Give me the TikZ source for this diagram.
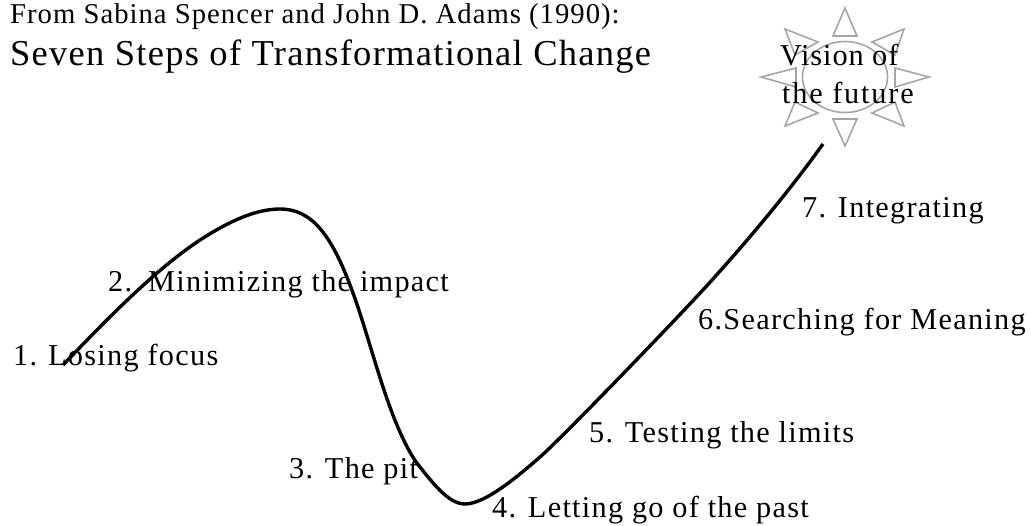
\documentclass[tikz,border=0pt]{standalone}
\usepackage{fontspec}
\setmainfont{Liberation Serif}
\tikzset{
  px/.style={x=1pt,y=-1pt},
  lab/.style={anchor=base west,inner sep=0pt,font=\fontsize{30.3}{30.3}\selectfont\addfontfeatures{LetterSpace=4.2}},
  sunline/.style={draw=black!35,line width=1.6pt,line join=miter},
  curveline/.style={line width=3.4pt,line cap=butt,line join=round}
}
\begin{document}
\begin{tikzpicture}[px]
\useasboundingbox (0,0) rectangle (1031,525);
\fill[white] (0,0) rectangle (1031,525);
% sun
\draw[sunline] (845,77) ellipse [x radius=42.5,y radius=35.5];
\draw[sunline] (845,8) -- (833,36) -- (857,36) -- cycle;
\draw[sunline] (845,146) -- (833,119) -- (857,119) -- cycle;
\draw[sunline] (761,77) -- (796,68) -- (796,87) -- cycle;
\draw[sunline] (929,77) -- (895,68) -- (895,87) -- cycle;
\draw[sunline] (785,29) -- (818,42) -- (795,55) -- cycle;
\draw[sunline] (904,29) -- (872,42) -- (895,55) -- cycle;
\draw[sunline] (785,126) -- (818,113) -- (795,102) -- cycle;
\draw[sunline] (904,126) -- (872,113) -- (895,102) -- cycle;
% curve
\draw[curveline] (63,365) .. controls (110,316) and (155,270) .. (200,240)
  .. controls (228,222) and (255,209) .. (280,209)
  .. controls (312,209) and (332,235) .. (353,293)
  .. controls (372,345) and (388,420) .. (416,462)
  .. controls (432,482) and (448,504) .. (465,504)
  .. controls (485,504) and (517,477) .. (540,457)
  .. controls (563,437) and (690,305) .. (712,280)
  .. controls (750,238) and (790,190) .. (823,144);
% text
\node[lab,font=\fontsize{28.7}{28.7}\selectfont\addfontfeatures{LetterSpace=3.5}] (t1) at (10,23) {From Sabina Spencer and John D. Adams (1990):};
\node[lab,font=\fontsize{36.5}{36.5}\selectfont\addfontfeatures{LetterSpace=3.5}] (t2) at (10,65) {Seven Steps of Transformational Change};
\node[lab,font=\fontsize{30.3}{30.3}\selectfont\addfontfeatures{LetterSpace=3}] (v1) at (780,65) {Vision of};
\node[lab,font=\fontsize{30.3}{30.3}\selectfont\addfontfeatures{LetterSpace=6}] (v2) at (782,103) {the future};
\node[lab] (s7) at (802,217) {7. Integrating};
\node[lab] (s2) at (108,291) {2.\hspace{16pt}Minimizing the impact};
\node[lab] (s6) at (698,329) {6.Searching for Meaning};
\node[lab] (s1) at (13,365) {1.\hspace{11pt}Losing focus};
\node[lab] (s5) at (589,442) {5. Testing the limits};
\node[lab] (s3) at (289,478) {3. The pit};
\node[lab] (s4) at (492,517) {4. Letting go of the past};
\end{tikzpicture}
\end{document}
